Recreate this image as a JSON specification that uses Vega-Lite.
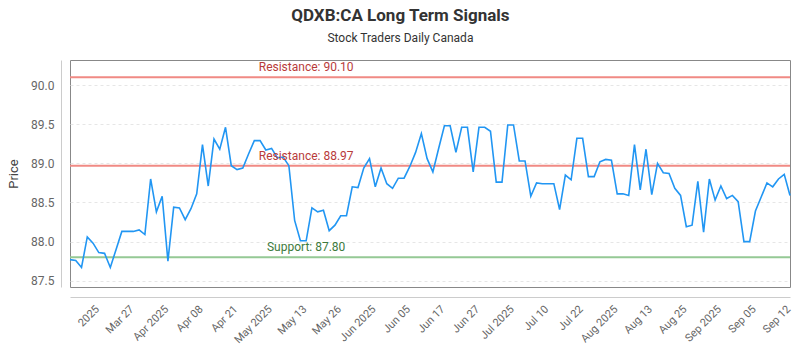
{
  "$schema": "https://vega.github.io/schema/vega-lite/v6.json",
  "width": 720,
  "height": 227,
  "autosize": {"type": "none"},
  "padding": {"left": 70, "top": 60, "right": 10, "bottom": 63},
  "background": "white",
  "title": {
    "text": "QDXB:CA Long Term Signals",
    "subtitle": "Stock Traders Daily Canada",
    "anchor": "middle",
    "frame": "bounds",
    "font": "Roboto",
    "fontSize": 17,
    "fontWeight": "bold",
    "color": "#333333",
    "subtitleFont": "Roboto",
    "subtitleFontSize": 12,
    "subtitleColor": "#333333",
    "subtitlePadding": 8,
    "offset": 15
  },
  "config": {
    "font": "Roboto",
    "view": {"stroke": "#888888", "strokeWidth": 1}
  },
  "datasets": {
    "prices": [
      {"date": "2025-03-14", "price": 87.77},
      {"date": "2025-03-17", "price": 87.76},
      {"date": "2025-03-18", "price": 87.67},
      {"date": "2025-03-19", "price": 88.06},
      {"date": "2025-03-20", "price": 87.98},
      {"date": "2025-03-21", "price": 87.86},
      {"date": "2025-03-24", "price": 87.85},
      {"date": "2025-03-25", "price": 87.67},
      {"date": "2025-03-26", "price": 87.90},
      {"date": "2025-03-27", "price": 88.13},
      {"date": "2025-03-28", "price": 88.13},
      {"date": "2025-03-31", "price": 88.13},
      {"date": "2025-04-01", "price": 88.15},
      {"date": "2025-04-02", "price": 88.09},
      {"date": "2025-04-03", "price": 88.80},
      {"date": "2025-04-04", "price": 88.38},
      {"date": "2025-04-07", "price": 88.58},
      {"date": "2025-04-08", "price": 87.75},
      {"date": "2025-04-09", "price": 88.44},
      {"date": "2025-04-10", "price": 88.43},
      {"date": "2025-04-11", "price": 88.28},
      {"date": "2025-04-14", "price": 88.42},
      {"date": "2025-04-15", "price": 88.61},
      {"date": "2025-04-16", "price": 89.24},
      {"date": "2025-04-17", "price": 88.71},
      {"date": "2025-04-21", "price": 89.31},
      {"date": "2025-04-22", "price": 89.18},
      {"date": "2025-04-23", "price": 89.46},
      {"date": "2025-04-24", "price": 88.97},
      {"date": "2025-04-25", "price": 88.92},
      {"date": "2025-04-28", "price": 88.94},
      {"date": "2025-04-29", "price": 89.12},
      {"date": "2025-04-30", "price": 89.29},
      {"date": "2025-05-01", "price": 89.29},
      {"date": "2025-05-02", "price": 89.17},
      {"date": "2025-05-05", "price": 89.19},
      {"date": "2025-05-06", "price": 89.07},
      {"date": "2025-05-07", "price": 89.08},
      {"date": "2025-05-08", "price": 88.97},
      {"date": "2025-05-09", "price": 88.27},
      {"date": "2025-05-12", "price": 88.01},
      {"date": "2025-05-13", "price": 88.01},
      {"date": "2025-05-14", "price": 88.43},
      {"date": "2025-05-15", "price": 88.38},
      {"date": "2025-05-16", "price": 88.40},
      {"date": "2025-05-20", "price": 88.14},
      {"date": "2025-05-21", "price": 88.21},
      {"date": "2025-05-22", "price": 88.33},
      {"date": "2025-05-23", "price": 88.33},
      {"date": "2025-05-26", "price": 88.70},
      {"date": "2025-05-27", "price": 88.69},
      {"date": "2025-05-28", "price": 88.94},
      {"date": "2025-05-29", "price": 89.06},
      {"date": "2025-05-30", "price": 88.70},
      {"date": "2025-06-02", "price": 88.94},
      {"date": "2025-06-03", "price": 88.74},
      {"date": "2025-06-04", "price": 88.68},
      {"date": "2025-06-05", "price": 88.81},
      {"date": "2025-06-06", "price": 88.81},
      {"date": "2025-06-09", "price": 88.96},
      {"date": "2025-06-10", "price": 89.14},
      {"date": "2025-06-11", "price": 89.38},
      {"date": "2025-06-12", "price": 89.06},
      {"date": "2025-06-13", "price": 88.89},
      {"date": "2025-06-16", "price": 89.19},
      {"date": "2025-06-17", "price": 89.48},
      {"date": "2025-06-18", "price": 89.48},
      {"date": "2025-06-19", "price": 89.14},
      {"date": "2025-06-20", "price": 89.46},
      {"date": "2025-06-23", "price": 89.46},
      {"date": "2025-06-24", "price": 88.89},
      {"date": "2025-06-25", "price": 89.46},
      {"date": "2025-06-26", "price": 89.46},
      {"date": "2025-06-27", "price": 89.41},
      {"date": "2025-06-30", "price": 88.76},
      {"date": "2025-07-02", "price": 88.76},
      {"date": "2025-07-03", "price": 89.49},
      {"date": "2025-07-04", "price": 89.49},
      {"date": "2025-07-07", "price": 89.03},
      {"date": "2025-07-08", "price": 89.03},
      {"date": "2025-07-09", "price": 88.58},
      {"date": "2025-07-10", "price": 88.75},
      {"date": "2025-07-11", "price": 88.74},
      {"date": "2025-07-14", "price": 88.74},
      {"date": "2025-07-15", "price": 88.74},
      {"date": "2025-07-16", "price": 88.41},
      {"date": "2025-07-17", "price": 88.85},
      {"date": "2025-07-18", "price": 88.79},
      {"date": "2025-07-21", "price": 89.32},
      {"date": "2025-07-22", "price": 89.32},
      {"date": "2025-07-23", "price": 88.83},
      {"date": "2025-07-24", "price": 88.83},
      {"date": "2025-07-25", "price": 89.02},
      {"date": "2025-07-28", "price": 89.05},
      {"date": "2025-07-29", "price": 89.04},
      {"date": "2025-07-30", "price": 88.61},
      {"date": "2025-07-31", "price": 88.61},
      {"date": "2025-08-01", "price": 88.59},
      {"date": "2025-08-05", "price": 89.24},
      {"date": "2025-08-06", "price": 88.66},
      {"date": "2025-08-07", "price": 89.18},
      {"date": "2025-08-08", "price": 88.60},
      {"date": "2025-08-11", "price": 89.00},
      {"date": "2025-08-12", "price": 88.88},
      {"date": "2025-08-13", "price": 88.87},
      {"date": "2025-08-14", "price": 88.68},
      {"date": "2025-08-15", "price": 88.59},
      {"date": "2025-08-18", "price": 88.19},
      {"date": "2025-08-19", "price": 88.21},
      {"date": "2025-08-20", "price": 88.77},
      {"date": "2025-08-21", "price": 88.12},
      {"date": "2025-08-22", "price": 88.80},
      {"date": "2025-08-25", "price": 88.53},
      {"date": "2025-08-26", "price": 88.71},
      {"date": "2025-08-27", "price": 88.55},
      {"date": "2025-08-28", "price": 88.59},
      {"date": "2025-08-29", "price": 88.51},
      {"date": "2025-09-02", "price": 88.00},
      {"date": "2025-09-03", "price": 88.00},
      {"date": "2025-09-04", "price": 88.39},
      {"date": "2025-09-05", "price": 88.57},
      {"date": "2025-09-08", "price": 88.75},
      {"date": "2025-09-09", "price": 88.70},
      {"date": "2025-09-10", "price": 88.80},
      {"date": "2025-09-11", "price": 88.86},
      {"date": "2025-09-12", "price": 88.59}
    ],
    "levels": [
      {"kind": "Resistance", "value": 90.10, "label": "Resistance: 90.10"},
      {"kind": "Resistance", "value": 88.97, "label": "Resistance: 88.97"},
      {"kind": "Support", "value": 87.80, "label": "Support: 87.80"}
    ]
  },
  "resolve": {"scale": {"color": "independent"}},
  "layer": [
    {
      "data": {"name": "levels"},
      "mark": {"type": "rule", "strokeWidth": 2},
      "encoding": {
        "y": {"field": "value", "type": "quantitative"},
        "color": {
          "field": "kind",
          "type": "nominal",
          "scale": {"domain": ["Resistance", "Support"], "range": ["#f08a84", "#95c995"]},
          "legend": null
        }
      }
    },
    {
      "data": {"name": "prices"},
      "mark": {"type": "line", "color": "#2196F3", "strokeWidth": 1.6},
      "encoding": {
        "x": {
          "field": "date",
          "type": "ordinal",
          "scale": {"type": "point", "padding": 0},
          "axis": {
            "title": null,
            "labelAngle": -45,
            "labelFontSize": 11,
            "labelColor": "#666666",
            "ticks": false,
            "domainColor": "#cccccc",
            "offset": 10,
            "labelPadding": 6,
            "grid": false,
            "values": ["2025-03-20", "2025-03-28", "2025-04-07", "2025-04-15", "2025-04-24", "2025-05-02", "2025-05-12", "2025-05-21", "2025-05-29", "2025-06-06", "2025-06-16", "2025-06-24", "2025-07-03", "2025-07-11", "2025-07-21", "2025-07-29", "2025-08-07", "2025-08-15", "2025-08-25", "2025-09-03", "2025-09-11"],
            "labelExpr": "{'2025-03-20':'2025','2025-03-28':'Mar 27','2025-04-07':'Apr 2025','2025-04-15':'Apr 08','2025-04-24':'Apr 21','2025-05-02':'May 2025','2025-05-12':'May 13','2025-05-21':'May 26','2025-05-29':'Jun 2025','2025-06-06':'Jun 05','2025-06-16':'Jun 17','2025-06-24':'Jun 27','2025-07-03':'Jul 2025','2025-07-11':'Jul 10','2025-07-21':'Jul 22','2025-07-29':'Aug 2025','2025-08-07':'Aug 13','2025-08-15':'Aug 25','2025-08-25':'Sep 2025','2025-09-03':'Sep 05','2025-09-11':'Sep 12'}[datum.value]"
          }
        },
        "y": {
          "field": "price",
          "type": "quantitative",
          "scale": {"domain": [87.42, 90.32], "nice": false, "zero": false},
          "axis": {
            "title": "Price",
            "titleFontSize": 13,
            "titleFontWeight": "normal",
            "titleColor": "#444444",
            "titlePadding": 10,
            "labelFontSize": 12,
            "labelColor": "#666666",
            "ticks": false,
            "domainColor": "#cccccc",
            "offset": 9,
            "labelPadding": 7,
            "values": [87.5, 88, 88.5, 89, 89.5, 90],
            "format": ".1f",
            "grid": true,
            "gridDash": [3, 3],
            "gridColor": "#e6e6e6"
          }
        }
      }
    },
    {
      "data": {"name": "levels"},
      "mark": {"type": "text", "baseline": "bottom", "dy": -3, "fontSize": 12},
      "encoding": {
        "x": {"datum": "2025-05-13", "type": "ordinal"},
        "y": {"field": "value", "type": "quantitative"},
        "text": {"field": "label"},
        "color": {
          "field": "kind",
          "type": "nominal",
          "scale": {"domain": ["Resistance", "Support"], "range": ["#b83b3b", "#3d7a3d"]},
          "legend": null
        }
      }
    }
  ]
}
